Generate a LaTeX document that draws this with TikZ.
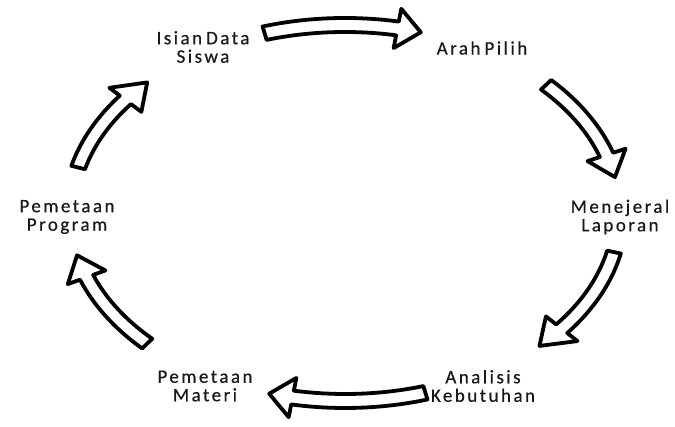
\documentclass[tikz,border=0pt]{standalone}
\usepackage{fontspec}
\setmainfont{Carlito}[LetterSpace=13,WordSpace=0.6,FakeBold=0.5]
\tikzset{
  lbl/.style={align=center, font=\fontsize{19}{18.5}\selectfont, text=black!90, inner sep=0pt},
  barrow/.style={draw=black, line width=3.8pt, fill=white, line join=round}
}
\newcommand\blockarr[3]{%
  \draw[barrow] (#1:282 and 195) arc[start angle=#1, end angle=#2, x radius=282, y radius=195]
    -- (#2:295 and 208) -- (#3:275 and 188) -- (#2:255 and 168) -- (#2:268 and 181)
    arc[start angle=#2, end angle=#1, x radius=268, y radius=181] -- cycle;}
\begin{document}
\begin{tikzpicture}[x=1pt,y=1pt]
\useasboundingbox (0,0) rectangle (675,427);
\fill[white] (0,0) rectangle (675,427);
\begin{scope}[shift={(345,214)}]
  \blockarr{107}{79}{74}
  \blockarr{43}{18}{11}
  \blockarr{-12}{-38}{-45}
  \blockarr{-73}{-101}{-106}
  \blockarr{-136}{-160}{-167}
  \blockarr{166}{143}{136}
\end{scope}
\node[lbl] (isian) at (203,380) {Isian Data\\Siswa};
\node[lbl] (arah) at (482,379) {Arah Pilih};
\node[lbl] (menej) at (620,210) {Menejeral\\Laporan};
\node[lbl] (anal) at (483,41) {Analisis\\Kebutuhan};
\node[lbl] (pmat) at (205,41) {Pemetaan\\Materi};
\node[lbl] (pprog) at (67,210) {Pemetaan\\Program};
\end{tikzpicture}
\end{document}
